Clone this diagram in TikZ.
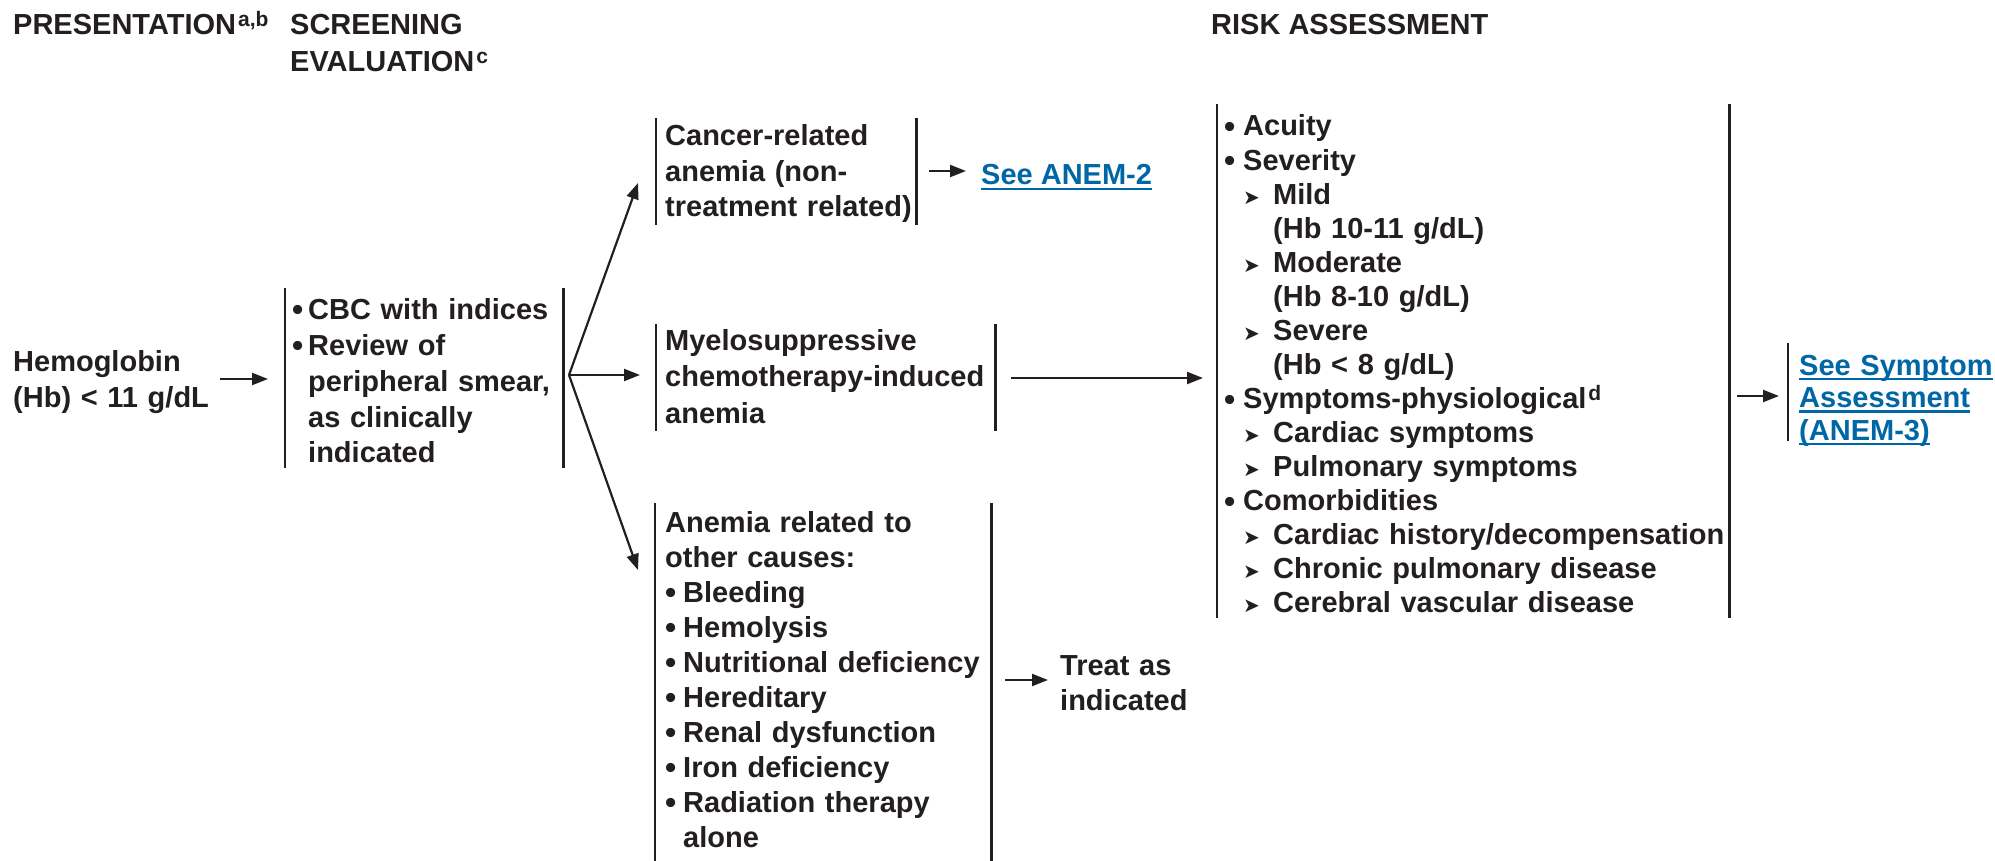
\documentclass[tikz,border=0pt]{standalone}
\usepackage{fontspec}
\setmainfont{Liberation Sans}
\newfontfamily\djv{DejaVu Sans}
\usetikzlibrary{arrows.meta,calc}
\definecolor{ink}{RGB}{35,31,32}
\definecolor{linkblue}{RGB}{0,103,166}
\newcommand\fs[1]{\bfseries\fontsize{29}{#1}\selectfont}
\newcommand\sups[1]{\hspace{2pt}\raisebox{8pt}{\fontsize{21}{21}\selectfont #1}}
\newcommand\bu[1]{\makebox[#1][l]{\raisebox{-1.5pt}{\scalebox{1.1}{•}}}}
\newcommand\sa{\makebox[30pt][l]{\djv\mdseries\fontsize{20}{20}\selectfont ➤}}
\newcommand\ulk[1]{\leavevmode\setbox0\hbox{#1}\rlap{\rule[-5pt]{\wd0}{2.2pt}}\box0}
\begin{document}
\begin{tikzpicture}[x=1pt,y=-1pt,
  txt/.style={anchor=base west, inner sep=0pt, align=left, text=ink},
  box/.style={txt, inner xsep=#1},
  bar/.style={draw=ink, line width=2.8pt},
  arr/.style={draw=ink, line width=2.2pt, -{Triangle[length=16pt,width=12pt]}}]
\useasboundingbox[fill=white] (0,0) rectangle (1995,861);

% headers
\node[txt, font=\fs{37}] (tpres) at (13,35) {PRESENTATION\sups{a,b}};
\node[txt, font=\fs{37}, text width=300] (tscreen) at (290,35) {SCREENING\\EVALUATION\sups{c}};
\node[txt, font=\fs{37}] (trisk) at (1211,35) {RISK ASSESSMENT};

% presentation
\node[txt, font=\fs{36}, text width=200] (hb) at (13,371) {Hemoglobin\\(Hb) < 11 g/dL};

% screening box
\node[box=7, font=\fs{36}, text width=264] (screen) at (285,319)
  {\bu{16pt}CBC with indices\\\bu{16pt}Review of\\\hspace*{16pt}peripheral smear,\\\hspace*{16pt}as clinically\\\hspace*{16pt}indicated};

% three branches
\node[box=9, font=\fs{35.5}, text width=242] (cancer) at (656,146)
  {Cancer-related\\anemia (non-\\\mbox{treatment related)}};
\node[box=9, font=\fs{36.5}, text width=321] (myelo) at (656,350)
  {Myelosuppressive\\\mbox{chemotherapy-induced}\\anemia};
\node[box=10, font=\fs{35}, text width=316] (other) at (655,532)
  {Anemia related to\\other causes:\\\bu{18pt}Bleeding\\\bu{18pt}Hemolysis\\\bu{18pt}\mbox{Nutritional deficiency}\\\bu{18pt}Hereditary\\\bu{18pt}Renal dysfunction\\\bu{18pt}Iron deficiency\\\bu{18pt}Radiation therapy\\\hspace*{18pt}alone};

\node[txt, font=\fs{35}, text=linkblue] (anem2) at (981,185) {\ulk{See ANEM-2}};
\node[txt, font=\fs{35}, text width=150] (treat) at (1060,675) {Treat as\\indicated};

% risk assessment
\node[box=7, font=\fs{34.07}, text width=498] (risk) at (1217,136)
  {\bu{19pt}Acuity\\
   \bu{19pt}Severity\\
   \hspace*{19pt}\sa Mild\\
   \hspace*{49pt}(Hb 10-11 g/dL)\\
   \hspace*{19pt}\sa Moderate\\
   \hspace*{49pt}(Hb 8-10 g/dL)\\
   \hspace*{19pt}\sa Severe\\
   \hspace*{49pt}(Hb < 8 g/dL)\\
   \bu{19pt}\mbox{Symptoms-physiological\sups{d}}\\
   \hspace*{19pt}\sa \mbox{Cardiac symptoms}\\
   \hspace*{19pt}\sa \mbox{Pulmonary symptoms}\\
   \bu{19pt}Comorbidities\\
   \mbox{\hspace*{19pt}\sa Cardiac history/decompensation}\\
   \mbox{\hspace*{19pt}\sa Chronic pulmonary disease}\\
   \mbox{\hspace*{19pt}\sa Cerebral vascular disease}};

\node[box=11, font=\fs{32.5}, text width=185, text=linkblue] (symp) at (1788,375)
  {\ulk{See Symptom}\\\ulk{Assessment}\\\ulk{(ANEM-3)}};

% bars
\draw[bar] (screen.west |- 0,288) -- (screen.west |- 0,468);
\draw[bar] (screen.east |- 0,288) -- (screen.east |- 0,468);
\draw[bar] (cancer.west |- 0,118) -- (cancer.west |- 0,225);
\draw[bar] (cancer.east |- 0,118) -- (cancer.east |- 0,225);
\draw[bar] (myelo.west |- 0,324) -- (myelo.west |- 0,431);
\draw[bar] (myelo.east |- 0,324) -- (myelo.east |- 0,431);
\draw[bar] (other.west |- 0,503) -- (other.west |- 0,861);
\draw[bar] (other.east |- 0,503) -- (other.east |- 0,861);
\draw[bar] (risk.west |- 0,104) -- (risk.west |- 0,618);
\draw[bar] (risk.east |- 0,104) -- (risk.east |- 0,618);
\draw[bar] (symp.west |- 0,343) -- (symp.west |- 0,441);

% connectors
\coordinate (fan) at (569,375);
\draw[arr, shorten <=7pt, shorten >=17pt] (hb.east |- 0,379) -- (screen.west |- 0,379);
\draw[arr, shorten >=16pt] (fan) -- (myelo.west |- fan);
\draw[arr] (fan) -- ($(cancer.west |- 0,183)+(-18,0)$);
\draw[arr] (fan) -- ($(other.west |- 0,570)+(-17,0)$);
\draw[arr, shorten <=13pt, shorten >=15pt] (cancer.east |- 0,171) -- (anem2.west |- 0,171);
\draw[arr, shorten <=16pt, shorten >=14pt] (myelo.east |- 0,378) -- (risk.west |- 0,378);
\draw[arr, shorten <=14pt, shorten >=12pt] (other.east |- 0,680) -- (treat.west |- 0,680);
\draw[arr, shorten <=8pt, shorten >=9pt] (risk.east |- 0,396) -- (symp.west |- 0,396);
\end{tikzpicture}
\end{document}
